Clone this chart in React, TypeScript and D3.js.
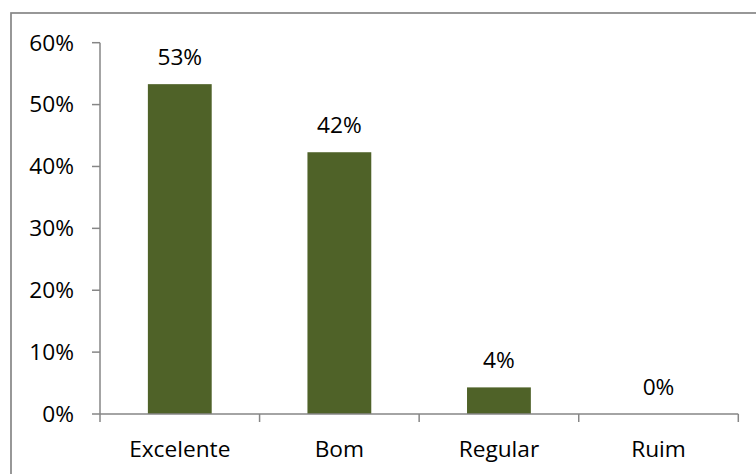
import React from "react";
import * as d3 from "d3";

const categories = ["Excelente", "Bom", "Regular", "Ruim"];
const values = [0.533, 0.423, 0.043, 0];
const valueLabels = ["53%", "42%", "4%", "0%"];
const yTicks = [0, 0.1, 0.2, 0.3, 0.4, 0.5, 0.6];

const W = 756;
const H = 474;
const FONT = "'Open Sans', Lato, sans-serif";
const FS = 22.7;
const AXIS = "#868686";
const BAR = "#4F6228";

export default function App() {
  const left = 100;
  const right = 738.3;
  const top = 42.7;
  const bottom = 414;
  const y = d3.scaleLinear().domain([0, 0.6]).range([bottom, top]);
  const x = d3
    .scaleBand<string>()
    .domain(categories)
    .range([left, right])
    .paddingInner(0.6)
    .paddingOuter(0.3);
  const step = x.step();
  const fmt = d3.format(".0%");

  return (
    <svg
      width={W}
      height={H}
      style={{ position: "absolute", left: 0, top: 0, background: "#fff" }}
      fontFamily={FONT}
    >
      <rect x={11} y={13} width={W + 20} height={H + 20} fill="#fff" stroke={AXIS} strokeWidth={1.7} />
      {categories.map((c, i) => (
        <rect
          key={c}
          x={x(c)!}
          y={y(values[i])}
          width={x.bandwidth()}
          height={bottom - y(values[i])}
          fill={BAR}
        />
      ))}
      {/* y axis */}
      <line x1={left} x2={left} y1={top} y2={bottom} stroke={AXIS} strokeWidth={1.5} />
      {yTicks.map((t) => (
        <g key={t}>
          <line x1={left - 8} x2={left} y1={y(t)} y2={y(t)} stroke={AXIS} strokeWidth={1.5} />
          <text x={74} y={y(t) + 7.8} textAnchor="end" fontSize={FS} fill="#000">
            {fmt(t)}
          </text>
        </g>
      ))}
      {/* x axis */}
      <line x1={left} x2={right} y1={bottom} y2={bottom} stroke={AXIS} strokeWidth={1.5} />
      {d3.range(categories.length + 1).map((i) => (
        <line
          key={i}
          x1={left + i * step}
          x2={left + i * step}
          y1={bottom}
          y2={bottom + 8}
          stroke={AXIS}
          strokeWidth={1.5}
        />
      ))}
      {categories.map((c) => (
        <text
          key={c}
          x={x(c)! + x.bandwidth() / 2}
          y={457}
          textAnchor="middle"
          fontSize={FS}
          fill="#000"
        >
          {c}
        </text>
      ))}
      {categories.map((c, i) => (
        <text
          key={c + "l"}
          x={x(c)! + x.bandwidth() / 2}
          y={y(values[i]) - 19}
          textAnchor="middle"
          fontSize={FS}
          fill="#000"
        >
          {valueLabels[i]}
        </text>
      ))}
    </svg>
  );
}
